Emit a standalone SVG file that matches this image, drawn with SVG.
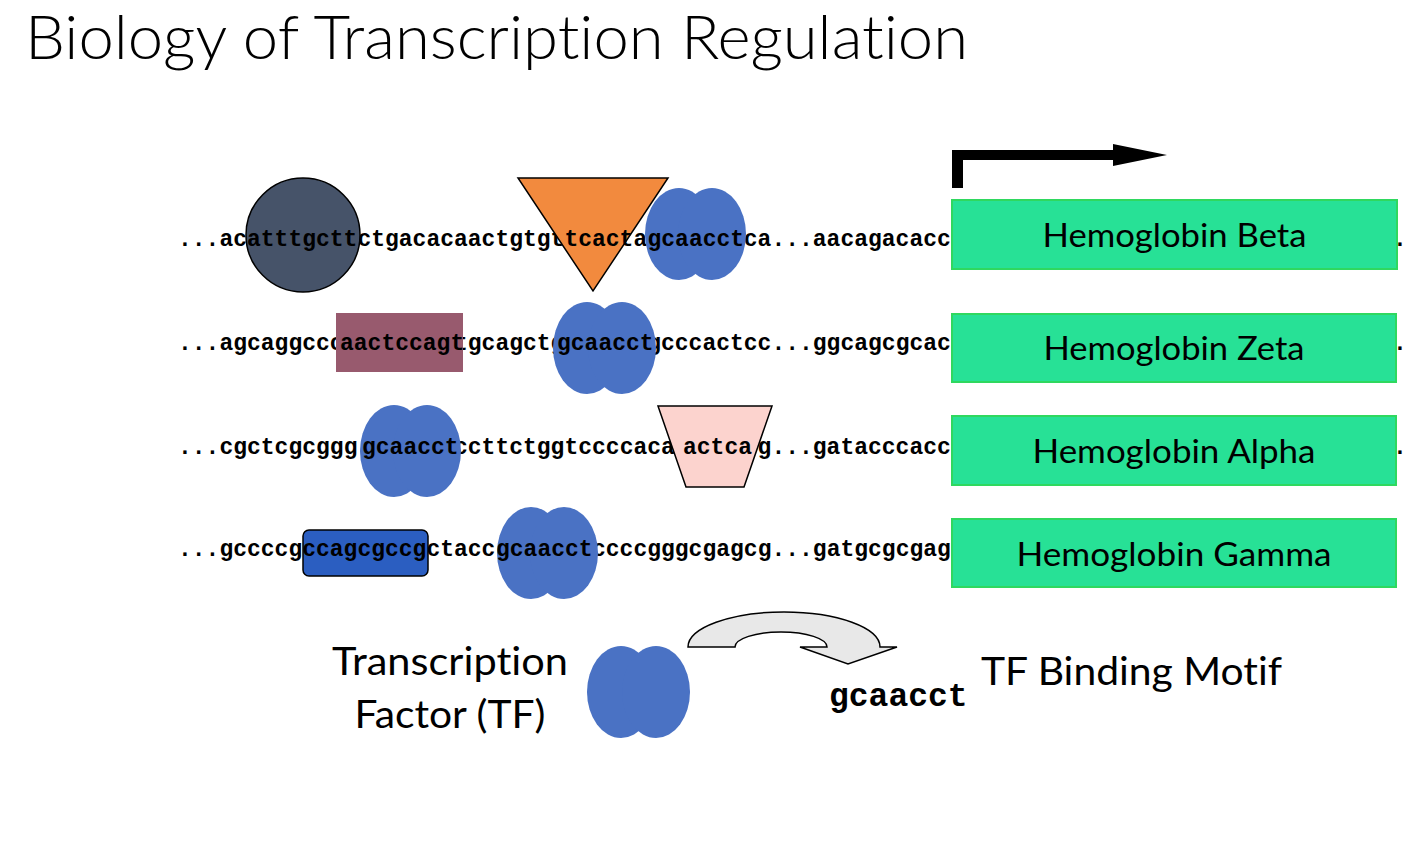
<svg xmlns="http://www.w3.org/2000/svg" width="1424" height="854" viewBox="0 0 1424 854">
  <style>
    text { font-variant-ligatures: none; }
    .seq { font-family: "Liberation Mono", "Courier New", monospace; font-weight: bold; font-size: 23px; fill: #000; }
    .motif { font-family: "Liberation Mono", "Courier New", monospace; font-weight: bold; font-size: 33px; fill: #000; }
    .sans { font-family: Lato, "Open Sans", "Liberation Sans", sans-serif; fill: #000; }
    .gene rect { fill: #27e196; stroke: #2fd85f; stroke-width: 2; }
    .gene text { font-family: Lato, "Open Sans", "Liberation Sans", sans-serif; font-size: 33px; fill: #000; text-anchor: middle; }
    .tf ellipse { fill: #4a72c4; }
    .edge { stroke: #000; stroke-width: 1.5; }
  </style>

  <!-- title -->
  <text class="sans" x="25" y="59" font-size="62" font-weight="300" textLength="943" lengthAdjust="spacingAndGlyphs">Biology of Transcription Regulation</text>

  <!-- DNA sequences upstream of each gene: 13.8 px per base, grid starts at x=178.
       Bases hidden under a factor are left out; bases shown on a factor are drawn above it. -->
  <g id="sequences">
    <text class="seq" x="178" y="246">...ac</text>
    <text class="seq" x="357.4" y="246">ctgacacaactgtgt</text>
    <text class="seq" x="743.8" y="246">ca...aacagacacc</text>

    <text class="seq" x="178" y="350">...agcaggccc</text>
    <text class="seq" x="454" y="350">tgcagctg</text>
    <text class="seq" x="647.2" y="350">gcccactcc...ggcagcgcac</text>

    <text class="seq" x="178" y="454">...cgctcgcggg</text>
    <text class="seq" x="454" y="454">ccttctggtccccaca</text>
    <text class="seq" x="757.6" y="454">g...gatacccacc</text>

    <text class="seq" x="178" y="556">...gccccg</text>
    <text class="seq" x="426.4" y="556">ctacc</text>
    <text class="seq" x="592" y="556">ccccgggcgagcg...gatgcgcgag</text>

    <!-- tails of the sequences running past the gene boxes -->
    <text class="seq" x="1393" y="246">.</text>
    <text class="seq" x="1393" y="350">.</text>
    <text class="seq" x="1393" y="454">.</text>
  </g>

  <!-- row 1: Hemoglobin Beta -->
  <g id="factor-circle">
    <circle cx="303" cy="235" r="57" fill="#465369" class="edge"/>
    <text class="seq" x="247" y="246">atttgctt</text>
  </g>
  <g id="factor-triangle">
    <polygon points="518,178 668,178 593,291" fill="#f28a3e" class="edge"/>
    <text class="seq" x="564.4" y="246">tcacta</text>
  </g>
  <g id="tf-row1" class="tf">
    <ellipse cx="679" cy="234" rx="34" ry="46"/>
    <ellipse cx="712" cy="234" rx="34" ry="46"/>
    <text class="seq" x="647.5" y="246">gcaacct</text>
  </g>

  <!-- row 2: Hemoglobin Zeta -->
  <g id="factor-box-mauve">
    <rect x="336" y="313" width="127" height="59" fill="#985a6e"/>
    <text class="seq" x="340" y="350">aactccagt</text>
  </g>
  <g id="tf-row2" class="tf">
    <ellipse cx="587" cy="348" rx="34" ry="46"/>
    <ellipse cx="622" cy="348" rx="34" ry="46"/>
    <text class="seq" x="557" y="350">gcaacct</text>
  </g>

  <!-- row 3: Hemoglobin Alpha -->
  <g id="tf-row3" class="tf">
    <ellipse cx="394" cy="451" rx="34" ry="46"/>
    <ellipse cx="427" cy="451" rx="34" ry="46"/>
    <text class="seq" x="362" y="454">gcaacct</text>
  </g>
  <g id="factor-trapezoid">
    <polygon points="658,406 772,406 744,487 686,487" fill="#fcd3ce" class="edge"/>
    <text class="seq" x="683" y="454">actca</text>
  </g>

  <!-- row 4: Hemoglobin Gamma -->
  <g id="factor-box-blue">
    <rect x="303" y="530" width="125" height="46" rx="6" fill="#2b5ec1" class="edge"/>
    <text class="seq" x="302.2" y="556">ccagcgccg</text>
  </g>
  <g id="tf-row4" class="tf">
    <ellipse cx="531" cy="553" rx="34" ry="46"/>
    <ellipse cx="564" cy="553" rx="34" ry="46"/>
    <text class="seq" x="496" y="556">gcaacct</text>
  </g>

  <!-- genes -->
  <g id="gene-beta" class="gene">
    <rect x="952" y="200" width="445" height="69"/>
    <text x="1174.5" y="247" textLength="264" lengthAdjust="spacingAndGlyphs">Hemoglobin Beta</text>
  </g>
  <g id="gene-zeta" class="gene">
    <rect x="952" y="314" width="444" height="68"/>
    <text x="1174" y="360" textLength="261" lengthAdjust="spacingAndGlyphs">Hemoglobin Zeta</text>
  </g>
  <g id="gene-alpha" class="gene">
    <rect x="952" y="416" width="444" height="69"/>
    <text x="1174" y="463" textLength="283" lengthAdjust="spacingAndGlyphs">Hemoglobin Alpha</text>
  </g>
  <g id="gene-gamma" class="gene">
    <rect x="952" y="519" width="444" height="68"/>
    <text x="1174" y="566" textLength="315" lengthAdjust="spacingAndGlyphs">Hemoglobin Gamma</text>
  </g>

  <!-- transcription start site -->
  <g id="promoter-arrow">
    <polygon points="952,188 952,150 1113,150 1113,144 1167,155 1113,166 1113,160 963,160 963,188" fill="#000"/>
  </g>

  <!-- legend -->
  <g id="legend-tf">
    <text class="sans" x="450" y="675" font-size="38" text-anchor="middle" textLength="236" lengthAdjust="spacingAndGlyphs">Transcription</text>
    <text class="sans" x="450" y="728" font-size="38" text-anchor="middle" textLength="191" lengthAdjust="spacingAndGlyphs">Factor (TF)</text>
    <g class="tf">
      <ellipse cx="621" cy="692" rx="34" ry="46"/>
      <ellipse cx="656" cy="692" rx="34" ry="46"/>
    </g>
  </g>

  <g id="connectors">
    <path d="M688,647 A96,35 0 0 1 880,647 L897,647 L848,664 L800,647 L827,647 A46,15 0 0 0 735,647 Z" fill="#e8e8e8" stroke="#000" stroke-width="1.5" stroke-linejoin="miter"/>
  </g>

  <g id="legend-motif">
    <text class="motif" x="829" y="706">gcaacct</text>
    <text class="sans" x="981" y="685" font-size="38" textLength="301" lengthAdjust="spacingAndGlyphs">TF Binding Motif</text>
  </g>
</svg>
